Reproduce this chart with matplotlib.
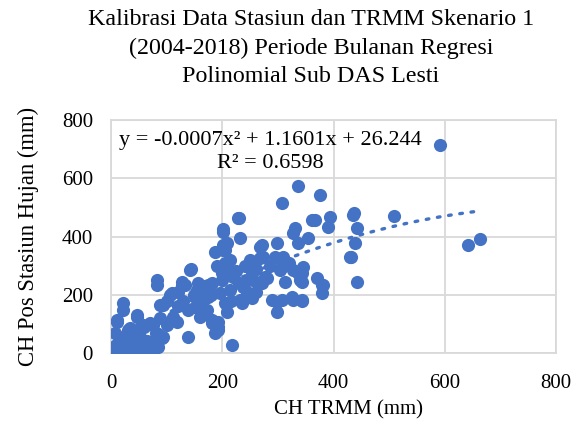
import matplotlib
matplotlib.use("Agg")
import matplotlib.pyplot as plt
import numpy as np

plt.rcParams['font.family'] = ['Liberation Serif', 'DejaVu Serif']

title = "Kalibrasi Data Stasiun dan TRMM Skenario 1\n(2004-2018) Periode Bulanan Regresi\nPolinomial Sub DAS Lesti"
x_label = "CH TRMM (mm)"
y_label = "CH Pos Stasiun Hujan (mm)"
x_ticks = [0, 200, 400, 600, 800]
y_ticks = [0, 200, 400, 600, 800]
coef = [-0.0007, 1.1601, 26.244]
eq_line1 = "y = -0.0007x² + 1.1601x + 26.244"
eq_line2 = "R² = 0.6598"

trmm = [2, 4, 7, 10, 12, 15, 18, 20, 22, 25, 29, 32, 35, 38, 40, 45, 50, 52, 55, 58,
        60, 65, 70, 75, 80, 85, 92, 94, 7, 4, 11, 11, 22, 22, 31, 34, 47, 47, 52, 58,
        70, 76, 80, 88, 139, 85, 112, 100, 118,
        83, 88, 94, 106, 110, 128, 133, 142, 139, 151, 155, 160, 166, 169, 173, 174, 174,
        182, 182, 187, 193, 192, 192, 196, 200, 201, 201, 201, 201, 205, 205, 205, 209, 209,
        214, 214, 218, 219, 228, 231, 232, 232, 236, 237, 246, 254, 254, 255, 268, 268, 272,
        272, 273, 277, 280, 290, 299, 299, 299, 304, 307, 307, 307, 313, 325, 327, 327, 327,
        331, 336, 336, 336, 340, 340, 343, 343, 343, 343, 345, 354, 362, 367, 370, 376, 379,
        379, 381, 390, 394, 430, 432, 435, 437, 439, 442, 442, 509, 592, 641, 664, 144, 83,
        128, 156, 182, 187,
        190, 210, 225, 240, 250, 260, 285, 295, 310, 320, 230, 245, 260, 200, 215, 180, 165,
        150, 130, 120, 100, 60, 120]
pos = [5, 21, 12, 30, 2, 18, 40, 8, 55, 25, 10, 45, 0, 10, 30, 60, 15, 55, 35, 17,
       2, 40, 25, 10, 45, 21, 51, 55, 69, 17, 106, 113, 171, 147, 79, 86, 123, 130, 85, 95,
       103, 96, 70, 120, 55, 65, 124, 95, 105,
       233, 165, 165, 199, 206, 233, 233, 285, 147, 158, 216, 123, 182, 206, 147, 192, 233,
       103, 113, 69, 89, 79, 106, 206, 274, 353, 370, 415, 425, 171, 309, 353, 141, 377,
       216, 319, 27, 261, 463, 463, 182, 394, 171, 226, 250, 274, 189, 250, 364, 325, 370,
       240, 329, 261, 257, 182, 377, 175, 141, 285, 514, 295, 182, 243, 192, 182, 285, 411,
       428, 377, 572, 274, 250, 278, 182, 243, 274, 178, 295, 394, 456, 456, 257, 542, 233,
       206, 233, 432, 466, 329, 329, 473, 480, 377, 428, 243, 470, 713, 371, 391, 288, 250,
       243, 240, 240, 346,
       300, 290, 280, 300, 320, 290, 300, 330, 330, 310, 240, 210, 210, 250, 180, 200, 230,
       200, 180, 210, 180, 90, 160]

blue = '#4472C4'
grid_c = '#D9D9D9'

fig = plt.figure(figsize=(5.82, 4.29), dpi=100)
ax = fig.add_axes([111/582, 1-353/429, (556-111)/582, (353-120)/429])

ax.scatter(trmm, pos, s=90, color=blue, linewidths=0, zorder=3)

xs = np.linspace(min(trmm), max(trmm), 200)
ys = np.polyval(coef, xs)
ax.plot(xs, ys, linestyle=(0, (0.8, 2.6)), color=blue, linewidth=2.4, zorder=2,
        dash_capstyle='round')

ax.set_xlim(0, 800)
ax.set_ylim(0, 800)
ax.set_xticks(x_ticks)
ax.set_yticks(y_ticks)
ax.tick_params(length=0, labelsize=15)
ax.tick_params(axis='x', pad=15)
ax.tick_params(axis='y', pad=13)
ax.grid(True, color=grid_c, linewidth=1.3, zorder=0)
ax.set_axisbelow(True)
for s in ax.spines.values():
    s.set_color(grid_c)
    s.set_linewidth(1.3)

ax.text(286, (353-141)/0.29125, eq_line1, ha='center', va='center', fontsize=16, zorder=4)
ax.text(286, (353-163)/0.29125, eq_line2, ha='center', va='center', fontsize=16, zorder=4)

ax.set_xlabel(x_label, fontsize=15)
ax.xaxis.set_label_coords((349-111)/445, (353-410)/233)
ax.xaxis.label.set_va('center')
ax.set_ylabel(y_label, fontsize=16.3)
ax.yaxis.set_label_coords((28-111)/445, 0.5)
ax.yaxis.label.set_va('center')

fig.text(311/582, 1-48/429, title, ha='center', va='center', fontsize=17.3, linespacing=1.43)

fig.savefig('out.png', dpi=100)
